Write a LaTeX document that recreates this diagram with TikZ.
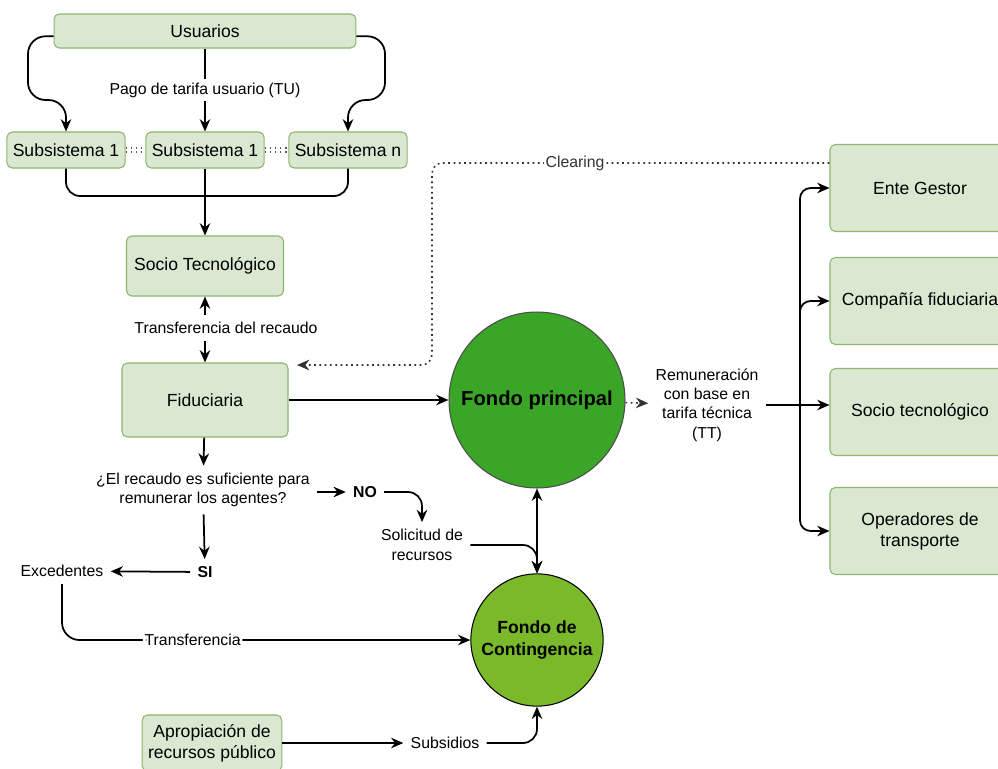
\documentclass[tikz,border=0pt]{standalone}
\usepackage{fontspec}
\setmainfont{Liberation Sans}
\usepackage{tikz}
\usetikzlibrary{arrows.meta,positioning,calc}

\definecolor{boxfill}{RGB}{218,232,210}
\definecolor{boxline}{RGB}{140,180,110}
\definecolor{fondoA}{RGB}{58,165,38}
\definecolor{fondoB}{RGB}{122,186,42}

\tikzset{
  box/.style={draw=boxline, fill=boxfill, rounded corners=3pt, align=center, line width=0.6pt},
  lbl/.style={align=center, font=\small, inner sep=4pt},
  fondo/.style={circle, draw=black!70, line width=0.6pt, align=center, font=\bfseries},
  link/.style={->, line width=1pt},
  clr/.style={dotted, line width=0.9pt, gray!70!black}
}

\begin{document}
\begin{tikzpicture}[>={Stealth[length=7pt,width=6pt]},x=0.02cm,y=-0.02cm]
    \useasboundingbox (0,0) rectangle (998,768);
    % left column
    \node[box, minimum width=6.04cm, minimum height=0.68cm] (usu)  at (205,31)  {Usuarios};
    \node[box, minimum width=2.32cm, minimum height=0.72cm] (sub1) at (66,150)  {Subsistema 1};
    \node[box, minimum width=2.2cm,  minimum height=0.72cm] (sub2) at (205,150) {Subsistema 1};
    \node[box, minimum width=2.26cm, minimum height=0.72cm] (subn) at (348,150) {Subsistema n};
    \node[box, minimum width=3.14cm, minimum height=1.2cm]  (socio) at (205,266) {Socio Tecnológico};
    \node[box, minimum width=3.32cm, minimum height=1.48cm] (fid)  at (205,400) {Fiduciaria};
    \node[lbl] (trans) at (226,328) {Transferencia del recaudo};
    \node[lbl] (preg) at (203,490) {¿El recaudo es suficiente para\\remunerar los agentes?};
    \node[lbl, font=\small\bfseries] (no) at (365,492) {NO};
    \node[lbl] (sol) at (422,545) {Solicitud de\\recursos};
    \node[lbl, font=\small\bfseries] (si) at (205,572) {SI};
    \node[lbl] (exc) at (62,571) {Excedentes};
    \node[box, minimum width=2.78cm, minimum height=1.12cm] (apro) at (212,743) {Apropiación de\\recursos público};
    \node[lbl] (subs) at (445,743) {Subsidios};
    % funds
    \node[fondo, fill=fondoA, minimum size=3.52cm, font=\bfseries\fontsize{11.5}{13}\selectfont] (fp) at (537,400) {Fondo principal};
    \node[fondo, fill=fondoB, minimum size=2.4cm, draw=black] (fc) at (537,640) {Fondo de\\Contingencia};
    % right column
    \node[lbl] (remu) at (707,405) {Remuneración\\con base en\\tarifa técnica\\(TT)};
    \node[box, minimum width=3.6cm, minimum height=1.74cm] (ente) at (920,188) {Ente Gestor};
    \node[box, minimum width=3.6cm, minimum height=1.74cm] (comp) at (920,301) {Compañía fiduciaria};
    \node[box, minimum width=3.6cm, minimum height=1.74cm] (stec) at (920,412) {Socio tecnológico};
    \node[box, minimum width=3.6cm, minimum height=1.74cm] (oper) at (920,531) {Operadores de\\transporte};
    \coordinate (merge) at (205,196);
    \coordinate (br) at (800,405);
    \coordinate (back) at (297,365);

    % users to subsystems
    \draw[link, rounded corners=10pt] ([yshift=-3pt]usu.west) -| (28,100) -| (sub1.north);
    \draw[link, rounded corners=10pt] ([yshift=-3pt]usu.east) -| (385,100) -| (subn.north);
    \draw[link] (usu) to node[lbl, fill=white, inner sep=2pt]{Pago de tarifa usuario (TU)} (sub2);
    \draw[clr] ([yshift=1.2pt]sub1.east) -- ([yshift=1.2pt]sub2.west);
    \draw[clr] ([yshift=-1.2pt]sub1.east) -- ([yshift=-1.2pt]sub2.west);
    \draw[clr] ([yshift=1.2pt]sub2.east) -- ([yshift=1.2pt]subn.west);
    \draw[clr] ([yshift=-1.2pt]sub2.east) -- ([yshift=-1.2pt]subn.west);
    \draw[line width=1pt, rounded corners=8pt] (sub1) |- (merge);
    \draw[line width=1pt, rounded corners=8pt] (subn) |- (merge);
    \draw[link] (sub2) -- (socio);
    \draw[link] (socio.south |- trans.north) -- (socio.south);
    \draw[link] (fid.north |- trans.south) -- (fid.north);
    % collection and funds
    \draw[link] (fid) -- (fp);
    \draw[link, clr, black!80, rounded corners=6pt] ([yshift=0.5cm]ente.west) -| node[pos=0.32, fill=white, font=\small, inner sep=1pt]{Clearing} (432,365) -- (back);
    \draw[link] (fid) -- (preg);
    \draw[link] (preg.east |- no) -- (no);
    \draw[link, rounded corners=8pt] (no) -| (sol);
    \draw[link, rounded corners=8pt] (sol) -| (fc.north);
    \draw[link, <->] (fp) -- (fc);
    \draw[link] (preg) -- (si);
    \draw[link] (si) -- (exc);
    \draw[link, rounded corners=10pt] (exc) |- node[pos=0.66, fill=white, font=\small, inner sep=1pt]{Transferencia} (fc);
    \draw[link] (apro) -- (subs);
    \draw[link, rounded corners=8pt] (subs) -| (fc);
    % remuneration
    \draw[link, clr, black!80] (fp) -- (remu);
    \draw[line width=1pt] (remu) -- (br);
    \draw[link, rounded corners=6pt] (br) |- (ente.west);
    \draw[link, rounded corners=6pt] (br) |- (comp.west);
    \draw[link] (br) -- (stec.west |- br);
    \draw[link, rounded corners=6pt] (br) |- (oper.west);
\end{tikzpicture}
\end{document}
